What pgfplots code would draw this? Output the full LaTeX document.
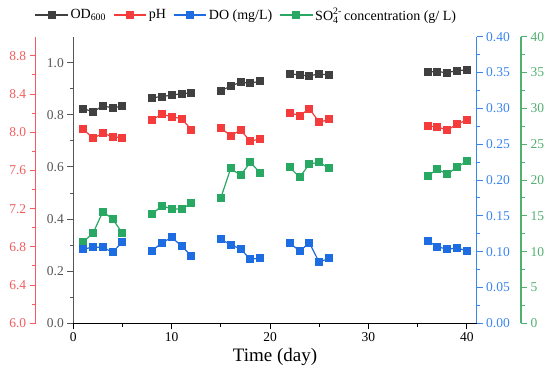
\documentclass[border=0pt]{standalone}
\usepackage{pgfplots}
\pgfplotsset{compat=1.18}
\usepackage{amsmath}
\usepackage{fontspec}
\setmainfont{Liberation Serif}
\definecolor{cOD}{RGB}{64,64,64}
\definecolor{cPH}{RGB}{245,60,60}
\definecolor{cDO}{RGB}{30,108,225}
\definecolor{cSO}{RGB}{40,168,98}
\definecolor{aPH}{RGB}{242,92,92}
\definecolor{aDO}{RGB}{58,134,240}
\definecolor{aSO}{RGB}{80,176,112}
\definecolor{aOD}{RGB}{85,85,85}
\pgfplotsset{
  base/.style={scale only axis, width=403.4pt, height=286.6pt, xmin=0, xmax=41,
    at={(0pt,0pt)}, anchor=south west, tick align=outside,
    major tick length=6pt, minor tick length=3.5pt,
    /pgf/number format/assume math mode=true,
    ticklabel style={font=\fontsize{13.5}{14}\selectfont},
    unbounded coords=jump},
  ser/.style={line width=1.2pt, color=#1, mark=square*, mark size=3.4pt, mark options={solid, fill=#1, draw=#1}},
}
\begin{document}
\begin{tikzpicture}
\path[use as bounding box] (-73.3pt,-60.7pt) rectangle (476.7pt,323.3pt);
% main axis: OD600 and time
\begin{axis}[base,
  axis x line*=bottom, axis y line*=left,
  ymin=0, ymax=1.1,
  ytick={0,0.2,0.4,0.6,0.8,1.0}, minor y tick num=1,
  xtick={0,10,20,30,40}, minor x tick num=1,
  y axis line style={color=aOD, line width=1.1pt},
  x axis line style={color=black, line width=1.1pt},
  ytick style={color=aOD, line width=1pt}, xtick style={color=black, line width=1pt},
  yticklabel style={color=aOD, /pgf/number format/.cd, fixed, fixed zerofill, precision=1},
  xticklabel style={color=black},
  xlabel={Time (day)},
  xlabel style={font=\fontsize{19}{20}\selectfont, color=black},
  legend style={at={(0.429,1.076)}, anchor=center, draw=none, fill=none,
    legend columns=4, font=\fontsize{14}{16}\selectfont,
    /tikz/every even column/.append style={column sep=5pt}},
  legend image code/.code={\draw[mark repeat=2, mark phase=2] plot coordinates {(0cm,0cm) (0.575cm,0cm) (1.15cm,0cm)};},
]
\addplot[ser=cOD] table {
x y
1 0.824
2 0.812
3 0.834
4 0.827
5 0.834
6 nan
8 0.866
9 0.870
10 0.876
11 0.881
12 0.884
13 nan
15 0.892
16 0.911
17 0.925
18 0.921
19 0.930
20 nan
22 0.958
23 0.953
24 0.950
25 0.957
26 0.953
30 nan
36 0.965
37 0.966
38 0.962
39 0.970
40 0.972
};
\addlegendentry{OD$_{\text{600}}$}
\addlegendimage{ser=cPH}
\addlegendentry{pH}
\addlegendimage{ser=cDO}
\addlegendentry{DO (mg/L)}
\addlegendimage{ser=cSO}
\addlegendentry{SO$_{\text{4}}^{\text{2-}}$\,concentration (g/ L)}
\end{axis}
% pH data
\begin{axis}[base, hide x axis, hide y axis, ymin=6, ymax=9]
\addplot[ser=cPH] table {
x y
1 8.034
2 7.937
3 7.989
4 7.953
5 7.943
6 nan
8 8.131
9 8.188
10 8.163
11 8.142
12 8.027
13 nan
15 8.044
16 7.964
17 8.023
18 7.905
19 7.932
20 nan
22 8.205
23 8.173
24 8.246
25 8.104
26 8.135
30 nan
36 8.065
37 8.055
38 8.023
39 8.083
40 8.131
};
\end{axis}
% SO4 data
\begin{axis}[base, hide x axis, hide y axis, ymin=0, ymax=40]
\addplot[ser=cSO] table {
x y
1 11.35
2 12.56
3 15.58
4 14.56
5 12.56
6 nan
8 15.21
9 16.41
10 15.95
11 15.95
12 16.75
13 nan
15 17.53
16 21.63
17 20.66
18 22.47
19 20.98
20 nan
22 21.77
23 20.38
24 22.23
25 22.47
26 21.63
30 nan
36 20.56
37 21.49
38 20.84
39 21.77
40 22.65
};
\end{axis}
% DO axis and data
\begin{axis}[base, hide x axis, axis y line*=right, ymin=0, ymax=0.4,
  ytick={0,0.05,0.10,0.15,0.20,0.25,0.30,0.35,0.40}, minor y tick num=1,
  y axis line style={color=aDO, line width=1.1pt},
  ytick style={color=aDO, line width=1pt},
  yticklabel style={color=aDO, /pgf/number format/.cd, fixed, fixed zerofill, precision=2}]
\addplot[ser=cDO] table {
x y
1 0.1037
2 0.1061
3 0.1061
4 0.0991
5 0.1139
6 nan
8 0.1013
9 0.1121
10 0.1200
11 0.1079
12 0.0939
13 nan
15 0.1172
16 0.1097
17 0.1037
18 0.0893
19 0.0911
20 nan
22 0.1121
23 0.1009
24 0.1121
25 0.0851
26 0.0911
30 nan
36 0.1153
37 0.1069
38 0.1033
39 0.1051
40 0.1013
};
\end{axis}
% pH ruler
\begin{axis}[scale only axis, width=5pt, height=286.6pt, at={(-37.6pt,0pt)}, anchor=south west,
  xmin=0, xmax=1, ymin=6, ymax=9, hide x axis, axis y line*=left,
  tick align=outside, major tick length=6pt, minor tick length=3.5pt,
  /pgf/number format/assume math mode=true,
  ytick={6.0,6.4,6.8,7.2,7.6,8.0,8.4,8.8}, minor y tick num=1,
  y axis line style={color=aPH, line width=1.1pt},
  ytick style={color=aPH, line width=1pt},
  yticklabel style={font=\fontsize{13.5}{14}\selectfont, color=aPH, /pgf/number format/.cd, fixed, fixed zerofill, precision=1}]
\addplot[draw=none] coordinates {(0,6)};
\end{axis}
% SO4 ruler
\begin{axis}[scale only axis, width=5pt, height=286.6pt, at={(447.7pt,0pt)}, anchor=south east,
  xmin=0, xmax=1, ymin=0, ymax=40, hide x axis, axis y line*=right,
  tick align=outside, major tick length=6pt, minor tick length=3.5pt,
  /pgf/number format/assume math mode=true,
  ytick={0,5,10,15,20,25,30,35,40}, minor y tick num=1,
  y axis line style={color=aSO, line width=1.1pt},
  ytick style={color=aSO, line width=1pt},
  yticklabel style={font=\fontsize{13.5}{14}\selectfont, color=aSO}]
\addplot[draw=none] coordinates {(0,0)};
\end{axis}
\end{tikzpicture}
\end{document}
